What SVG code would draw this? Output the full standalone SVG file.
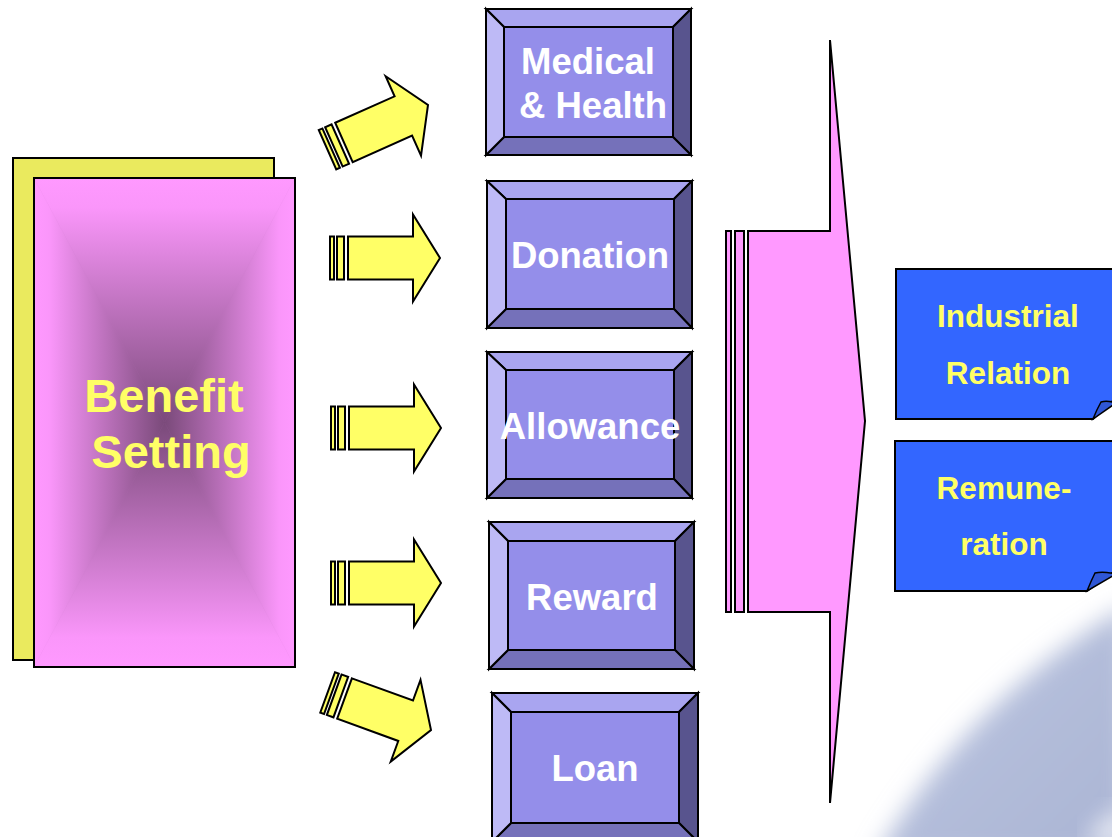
<svg xmlns="http://www.w3.org/2000/svg" width="1112" height="837" viewBox="0 0 1112 837">
<style>
.ln{stroke:#000;stroke-width:2;stroke-linejoin:miter}
.bt{fill:#A9A5F0}.bl{fill:#BEBAF6}.br{fill:#58548E}.bb{fill:#7571BA}.bc{fill:#948EEA}
.wt{font-family:"Liberation Sans",Arial,sans-serif;font-weight:bold;font-size:36.5px;fill:#FFFFFF;text-anchor:middle}
.yt{font-family:"Liberation Sans",Arial,sans-serif;font-weight:bold;fill:#FFFF66;text-anchor:middle}
.ya{fill:#FFFF66;stroke:#000;stroke-width:2;stroke-linejoin:miter}
.pk{fill:#FF99FF;stroke:#000;stroke-width:2}
.note{fill:#3366FF;stroke:#000;stroke-width:2}
.curl{fill:#2F57D6;stroke:#000;stroke-width:1.5}
</style>
<defs>
<linearGradient id="gT" gradientUnits="userSpaceOnUse" x1="0" y1="178" x2="0" y2="422.5"><stop offset="0" stop-color="#FF99FF"/><stop offset="0.12" stop-color="#FA96FA"/><stop offset="1" stop-color="#7A4A7A"/></linearGradient>
<linearGradient id="gB" gradientUnits="userSpaceOnUse" x1="0" y1="667" x2="0" y2="422.5"><stop offset="0" stop-color="#FF99FF"/><stop offset="0.12" stop-color="#FA96FA"/><stop offset="1" stop-color="#7A4A7A"/></linearGradient>
<linearGradient id="gL" gradientUnits="userSpaceOnUse" x1="34" y1="0" x2="164.5" y2="0"><stop offset="0" stop-color="#FF99FF"/><stop offset="0.12" stop-color="#FA96FA"/><stop offset="1" stop-color="#7A4A7A"/></linearGradient>
<linearGradient id="gR" gradientUnits="userSpaceOnUse" x1="295" y1="0" x2="164.5" y2="0"><stop offset="0" stop-color="#FF99FF"/><stop offset="0.12" stop-color="#FA96FA"/><stop offset="1" stop-color="#7A4A7A"/></linearGradient>
<linearGradient id="sw" x1="0" y1="0" x2="1" y2="1"><stop offset="0" stop-color="#DCE2F4"/><stop offset="0.5" stop-color="#B3BDDA"/><stop offset="1" stop-color="#AAB4D4"/></linearGradient>
<filter id="blur" x="-20%" y="-20%" width="140%" height="140%"><feGaussianBlur stdDeviation="12"/></filter>
<g id="arrow">
<rect x="-110" y="-21.5" width="4" height="43" class="ya"/>
<rect x="-103" y="-21.5" width="7" height="43" class="ya"/>
<path d="M-92,-21.5 H-27 V-43.5 L0,0 L-27,43.5 V21.5 H-92 Z" class="ya"/>
</g>
</defs>

<!-- background swoosh -->
<g id="swoosh">
<path d="M875,860 Q965,700 1130,605 L1130,860 Z" fill="url(#sw)" filter="url(#blur)"/>
<path d="M1085,845 Q1100,820 1125,805 L1125,845 Z" fill="#FFFFFF" filter="url(#blur)" opacity="0.8"/>
</g>

<!-- Benefit Setting -->
<g id="benefit-setting">
<rect x="13" y="158" width="261" height="502" fill="#EAEA5E" class="ln"/>
<rect x="34" y="178" width="261" height="489" fill="#C070C0"/>
<polygon points="34,178 295,178 164.5,422.5" fill="url(#gT)" stroke="url(#gT)" stroke-width="0.6"/>
<polygon points="34,667 295,667 164.5,422.5" fill="url(#gB)" stroke="url(#gB)" stroke-width="0.6"/>
<polygon points="34,178 34,667 164.5,422.5" fill="url(#gL)" stroke="url(#gL)" stroke-width="0.6"/>
<polygon points="295,178 295,667 164.5,422.5" fill="url(#gR)" stroke="url(#gR)" stroke-width="0.6"/>
<rect x="34" y="178" width="261" height="489" fill="none" class="ln"/>
<text class="yt" font-size="47" x="164" y="412">Benefit</text>
<text class="yt" font-size="47" x="171" y="468">Setting</text>
</g>

<!-- connectors -->
<g id="connectors">
<use href="#arrow" transform="translate(428,105) rotate(-24)"/>
<use href="#arrow" transform="translate(440,258)"/>
<use href="#arrow" transform="translate(441,428)"/>
<use href="#arrow" transform="translate(441,583)"/>
<use href="#arrow" transform="translate(431,730) rotate(20)"/>
<g id="big-arrow">
<rect x="726" y="231" width="5" height="381" class="pk"/>
<rect x="735" y="231" width="9" height="381" class="pk"/>
<path d="M748,231 H830 V40 L865,421 L830,803 V612 H748 Z" class="pk"/>
</g>
</g>

<!-- bevel boxes -->
<g id="medical-health">
<polygon class="bt ln" points="486,9 691,9 673,27 504,27"/>
<polygon class="br ln" points="691,9 691,155 673,137 673,27"/>
<polygon class="bb ln" points="691,155 486,155 504,137 673,137"/>
<polygon class="bl ln" points="486,155 486,9 504,27 504,137"/>
<rect class="bc ln" x="504" y="27" width="169" height="110"/>
<text class="wt" x="588" y="74">Medical</text>
<text class="wt" x="593" y="118">&amp; Health</text>
</g>
<g id="donation">
<polygon class="bt ln" points="487,181 692,181 674,199 506,199"/>
<polygon class="br ln" points="692,181 692,328 674,309 674,199"/>
<polygon class="bb ln" points="692,328 487,328 506,309 674,309"/>
<polygon class="bl ln" points="487,328 487,181 506,199 506,309"/>
<rect class="bc ln" x="506" y="199" width="168" height="110"/>
<text class="wt" x="590" y="268">Donation</text>
</g>
<g id="allowance">
<polygon class="bt ln" points="487,352 692,352 674,370 506,370"/>
<polygon class="br ln" points="692,352 692,498 674,479 674,370"/>
<polygon class="bb ln" points="692,498 487,498 506,479 674,479"/>
<polygon class="bl ln" points="487,498 487,352 506,370 506,479"/>
<rect class="bc ln" x="506" y="370" width="168" height="109"/>
<text class="wt" x="590" y="439">Allowance</text>
</g>
<g id="reward">
<polygon class="bt ln" points="489,522 694,522 675,541 508,541"/>
<polygon class="br ln" points="694,522 694,669 675,650 675,541"/>
<polygon class="bb ln" points="694,669 489,669 508,650 675,650"/>
<polygon class="bl ln" points="489,669 489,522 508,541 508,650"/>
<rect class="bc ln" x="508" y="541" width="167" height="109"/>
<text class="wt" x="592" y="610">Reward</text>
</g>
<g id="loan">
<polygon class="bt ln" points="492,693 698,693 679,712 511,712"/>
<polygon class="br ln" points="698,693 698,842 679,823 679,712"/>
<polygon class="bb ln" points="698,842 492,842 511,823 679,823"/>
<polygon class="bl ln" points="492,842 492,693 511,712 511,823"/>
<rect class="bc ln" x="511" y="712" width="168" height="111"/>
<text class="wt" x="595" y="781">Loan</text>
</g>

<!-- notes -->
<g id="industrial-relation">
<path class="note" d="M896,269 H1116 V398 L1093,419 H896 Z"/>
<path class="curl" d="M1093,419 Q1097,409 1101,402 Q1107,400 1116,403 Z"/>
<text class="yt" font-size="31.5" x="1008" y="327">Industrial</text>
<text class="yt" font-size="31.5" x="1008" y="384">Relation</text>
</g>
<g id="remuneration">
<path class="note" d="M895,441 H1116 V570 L1087,591 H895 Z"/>
<path class="curl" d="M1087,591 Q1091,581 1095,573 Q1103,571 1116,574 Z"/>
<text class="yt" font-size="31.5" x="1004" y="499">Remune-</text>
<text class="yt" font-size="31.5" x="1004" y="555">ration</text>
</g>
</svg>
